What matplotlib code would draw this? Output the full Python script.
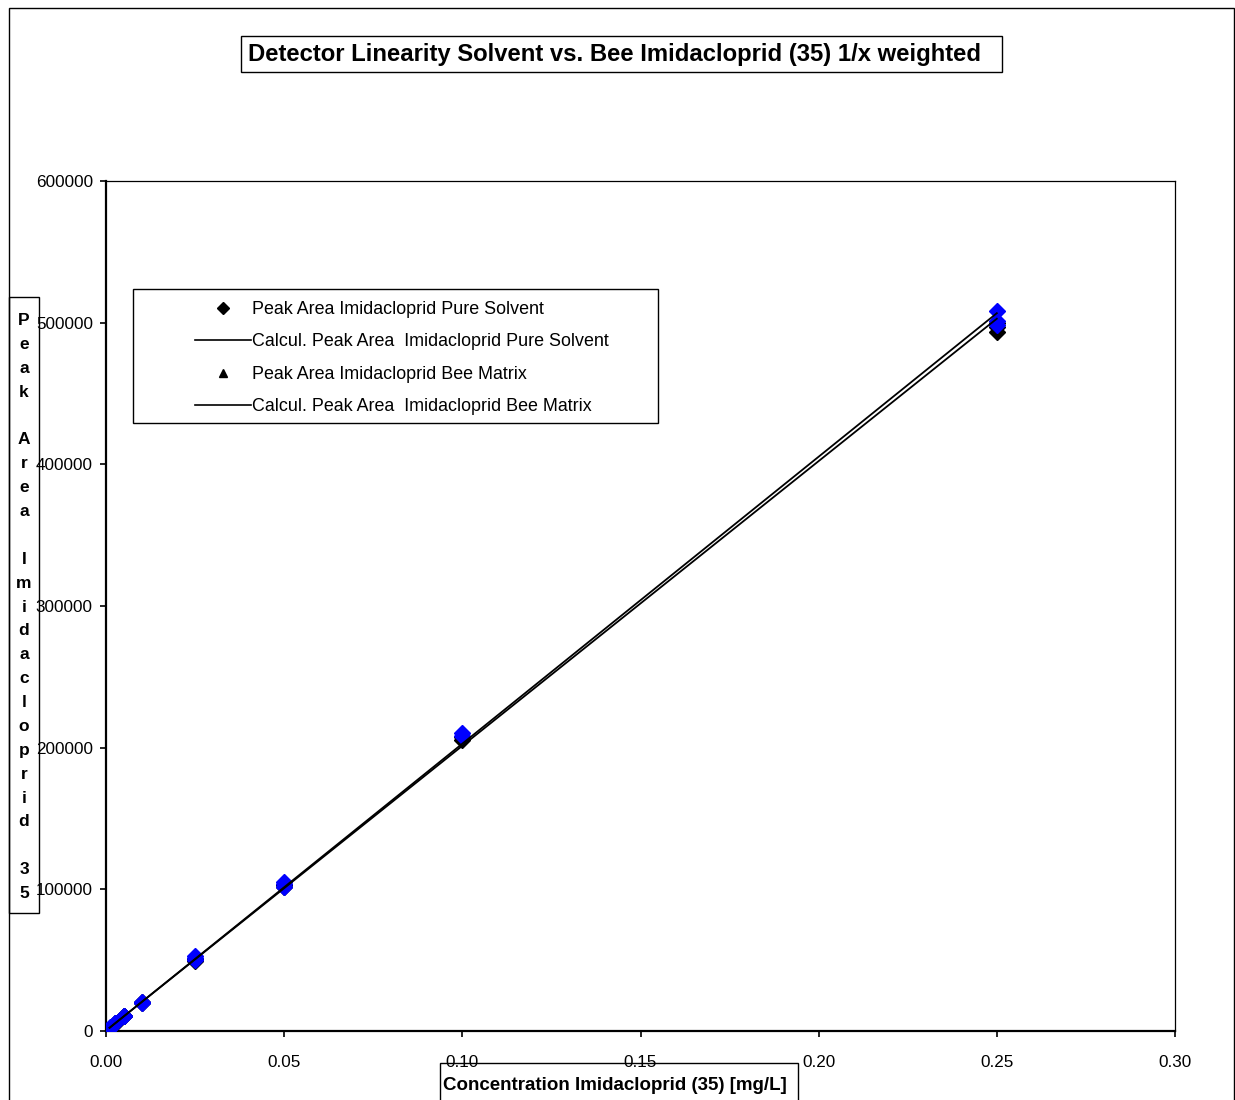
import matplotlib
matplotlib.use('Agg')
from matplotlib import pyplot as plt
from matplotlib.lines import Line2D
from matplotlib.patches import Rectangle
from matplotlib.ticker import FormatStrFormatter

plt.rcParams['font.family'] = ['Liberation Sans', 'DejaVu Sans']

# concentrations [mg/L]
conc = [0.001, 0.0025, 0.005, 0.01, 0.025, 0.05, 0.1, 0.25]

# replicate peak areas, pure solvent (black) and bee matrix (blue)
solvent_conc = [0.001, 0.001, 0.0025, 0.0025, 0.005, 0.005, 0.01, 0.01,
                0.025, 0.025, 0.05, 0.05, 0.1, 0.1, 0.25, 0.25, 0.25]
solvent_area = [2000, 2300, 5200, 5500, 10300, 10600, 19800, 20200,
                49500, 51000, 101500, 103000, 205500, 207500, 500000, 497000, 493500]

bee_conc = [0.001, 0.001, 0.0025, 0.0025, 0.005, 0.005, 0.01, 0.01,
            0.025, 0.025, 0.025, 0.05, 0.05, 0.05, 0.1, 0.1, 0.25, 0.25, 0.25]
bee_area = [2100, 2500, 5400, 5800, 10500, 10900, 20000, 20600,
            50000, 51500, 53000, 102000, 104000, 105500, 208500, 210500, 508500, 501500, 498500]

# calculated (1/x weighted fit) peak areas
solvent_calc = [2310, 5330, 10350, 20400, 50550, 100800, 201300, 502800]
bee_calc = [2230, 5270, 10330, 20460, 50850, 101500, 202800, 506700]

title = 'Detector Linearity Solvent vs. Bee Imidacloprid (35) 1/x weighted'
xlabel = 'Concentration Imidacloprid (35) [mg/L]'
ylabel = 'Peak Area Imidacloprid 35'
legend_labels = ['Peak Area Imidacloprid Pure Solvent',
                 'Calcul. Peak Area  Imidacloprid Pure Solvent',
                 'Peak Area Imidacloprid Bee Matrix',
                 'Calcul. Peak Area  Imidacloprid Bee Matrix']

W, H = 1235, 1100
fig = plt.figure(figsize=(W / 100, H / 100), dpi=100)
ax = fig.add_axes([106 / W, 1 - 1031 / H, (1175 - 106) / W, (1031 - 181) / H])

ax.plot(solvent_conc, solvent_area, ls='none', marker='D', ms=8.5,
        color='black', zorder=3)
ax.plot(bee_conc, bee_area, ls='none', marker='D', ms=8.5,
        color='#0000ff', zorder=4)
ax.plot(conc, solvent_calc, color='black', lw=1.3, zorder=5)
ax.plot(conc, bee_calc, color='black', lw=1.3, zorder=5)

ax.set_xlim(0, 0.30)
ax.set_ylim(0, 600000)
ax.set_xticks([0, 0.05, 0.10, 0.15, 0.20, 0.25, 0.30])
ax.set_yticks(range(0, 600001, 100000))
ax.xaxis.set_major_formatter(FormatStrFormatter('%.2f'))
ax.yaxis.set_major_formatter(FormatStrFormatter('%d'))
ax.tick_params(axis='x', direction='out', length=4.5, width=1.2, labelsize=12.3, pad=13)
ax.tick_params(axis='y', direction='out', length=4.5, width=1.2, labelsize=12.3, pad=5)
for s in ['left', 'bottom']:
    ax.spines[s].set_linewidth(1.6)
for s in ['top', 'right']:
    ax.spines[s].set_linewidth(0.9)

# legend
handles = [Line2D([], [], ls='none', marker='D', ms=6, color='black'),
           Line2D([], [], color='black', lw=1.2),
           Line2D([], [], ls='none', marker='^', ms=6, color='black'),
           Line2D([], [], color='black', lw=1.2)]
ax.legend(handles, legend_labels, loc='upper left',
          bbox_to_anchor=((195 - 106) / 1069, (1031 - 301) / 850),
          frameon=False, fontsize=12.9, handlelength=3.1, handletextpad=0.1,
          labelspacing=0.86, borderpad=0, borderaxespad=0)
ax.add_patch(Rectangle((27 / 1069, (1031 - 423) / 850), 525 / 1069, 134 / 850,
                       transform=ax.transAxes, fill=False, ec='black', lw=1.0,
                       zorder=6, clip_on=False))

# outer frame
fig.patches.append(Rectangle((9 / W, -0.05), (1234 - 9) / W, 1.05 - 8 / H,
                             transform=fig.transFigure, fill=False, ec='black', lw=1.0))

# title box
fig.patches.append(Rectangle((241 / W, 1 - 72 / H), (1002 - 241) / W, 36 / H,
                             transform=fig.transFigure, fill=False, ec='black', lw=1.0))
fig.text(615 / W, 1 - 55 / H, title, ha='center', va='center',
         fontsize=17.2, fontweight='bold')

# y label box (stacked letters)
fig.patches.append(Rectangle((9 / W, 1 - 913 / H), 30 / W, (913 - 297) / H,
                             transform=fig.transFigure, fill=False, ec='black', lw=1.0))
fig.text(24 / W, 1 - 607 / H, '\n'.join(ylabel), ha='center', va='center',
         fontsize=12.5, fontweight='bold', linespacing=1.74)

# x label box
fig.patches.append(Rectangle((440 / W, -0.05), (798 - 440) / W, 0.05 + 1 - 1063 / H,
                             transform=fig.transFigure, fill=False, ec='black', lw=1.0))
fig.text(615 / W, 1 - 1086 / H, xlabel, ha='center', va='center',
         fontsize=13.5, fontweight='bold')

fig.savefig('out.png', dpi=100)
